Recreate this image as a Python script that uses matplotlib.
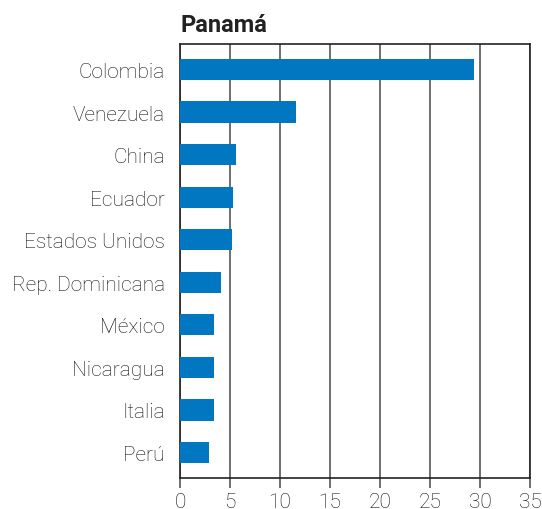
import matplotlib.pyplot as plt

countries = ["Colombia", "Venezuela", "China", "Ecuador", "Estados Unidos",
             "Rep. Dominicana", "México", "Nicaragua", "Italia", "Perú"]
values = [29.4, 11.6, 5.6, 5.3, 5.2, 4.1, 3.4, 3.4, 3.4, 2.9]
xticks = [0, 5, 10, 15, 20, 25, 30, 35]

plt.rcParams['font.family'] = ['Roboto', 'DejaVu Sans']

fig = plt.figure(figsize=(5.42, 5.10), dpi=100)
ax = fig.add_axes([180 / 542, 31 / 510, 350 / 542, 434 / 510])

ypos = list(range(len(countries)))
ax.barh(ypos, values, height=0.5, color='#0077C0', zorder=3)

ax.set_ylim(len(countries) - 0.4, -0.6)
ax.set_xlim(0, 35)
ax.set_xticks(xticks)
ax.set_yticks(ypos)
ax.set_yticklabels(countries, fontsize=15, color='#111111', fontweight='light')
ax.set_xticklabels([str(t) for t in xticks], fontsize=15, color='#111111', fontweight='light')

ax.xaxis.grid(True, color='#555555', linewidth=1.2, zorder=0)
ax.tick_params(axis='y', length=0, pad=11)
ax.tick_params(axis='x', length=7, width=1.2, color='#555555', pad=3)

for s in ax.spines.values():
    s.set_color('#222222')
    s.set_linewidth(1.2)

ax.set_title("Panamá", loc='left', fontsize=17, fontweight='bold', color='#222222', pad=9.5)

fig.savefig("out.png", dpi=100)
